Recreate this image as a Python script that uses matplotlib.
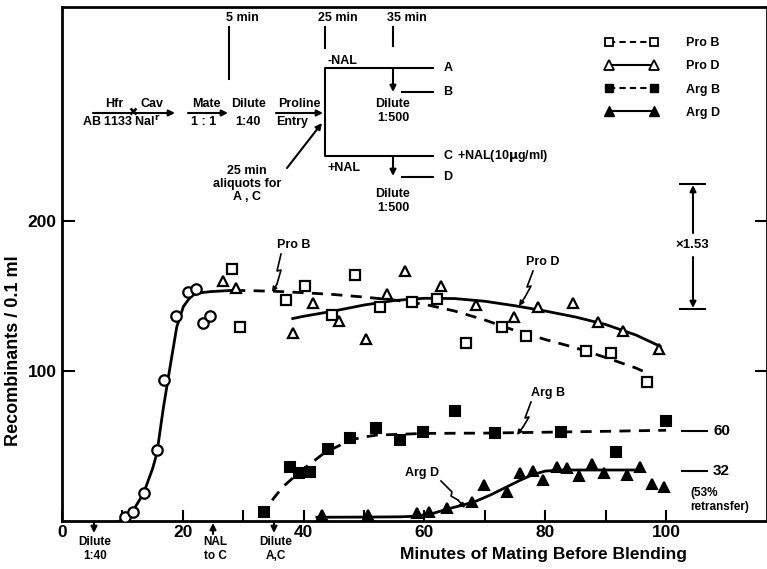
import numpy as np
import matplotlib.pyplot as plt
from matplotlib.lines import Line2D

plt.rcParams['font.family'] = ['Liberation Sans', 'DejaVu Sans']
plt.rcParams['font.weight'] = 'bold'
plt.rcParams['mathtext.default'] = 'bf'

W, H = 767, 569

# scatter data (minutes, recombinants / 0.1 ml)
circ_x = [10.4, 11.7, 13.5, 15.8, 16.9, 18.8, 20.9, 22.1, 23.3, 24.5]
circ_y = [2.5, 6.2, 18.9, 47.3, 94, 136.7, 152.4, 154.7, 132.2, 136.9]

prob_x = [28.2, 29.5, 37.1, 40.3, 44.7, 48.5, 52.6, 57.9, 62.1, 66.9, 72.9, 76.8, 86.7, 90.9, 96.9]
prob_y = [168, 129.5, 147.3, 156.7, 137.3, 164, 142.7, 146.2, 147.8, 118.9, 129.1, 123.6, 113.6, 111.8, 92.9]

prod_x = [26.7, 28.8, 38.3, 41.6, 45.9, 50.3, 53.8, 56.7, 62.7, 68.5, 74.8, 78.8, 84.6, 88.8, 92.9, 98.9]
prod_y = [160.2, 155.1, 125.1, 145.6, 133.5, 121.1, 151.1, 166.9, 156.9, 144, 135.8, 142.4, 145.1, 132.9, 126.7, 114.4]

argb_x = [33.4, 37.7, 39.2, 41.1, 44.0, 47.7, 51.9, 56.0, 59.8, 65.1, 71.7, 82.6, 91.7, 99.9]
argb_y = [5.8, 35.8, 31.8, 32.9, 47.8, 55.1, 61.8, 54, 59.1, 73.3, 58.4, 59.1, 45.8, 66.9]

argd_x = [43.0, 50.7, 58.7, 60.8, 63.8, 67.9, 69.9, 73.6, 75.8, 77.9, 79.7, 81.9, 83.6, 85.6,
          87.8, 89.8, 93.5, 95.7, 97.6, 99.7]
argd_y = [4, 4, 5.1, 6.2, 8.4, 12.9, 24, 19.6, 31.8, 33.6, 27.3, 36.2, 35.6, 30, 37.8, 31.8,
          30.7, 36.2, 24.7, 22.4]

# hand drawn curves
sig_x = [9.5, 10.2, 12.0, 13.5, 15.0, 15.7, 16.8, 17.9, 19.0, 20.1, 21.0, 21.7, 23.0, 24.5, 27.0, 28.5]
sig_y = [0, 1.1, 8.5, 18.4, 35, 45, 76, 103, 129.5, 143, 148, 150.7, 152.2, 152.9, 153.5, 153.8]

probc_x = [28.5, 35, 40, 45, 50, 55, 60, 65, 70, 75, 80, 85, 90, 95, 97.2]
probc_y = [153.8, 153.2, 152.2, 151, 149.3, 147.3, 144.5, 140, 134, 127, 121, 115.5, 109, 102, 98]

prodc_x = [38.2, 40, 45, 50, 55, 60, 65, 70, 75, 80, 85, 90, 95, 99]
prodc_y = [135, 136.5, 140, 144, 147, 148.5, 148.3, 146.5, 143.5, 140, 136, 131, 124, 116.5]

argbc_x = [33.0, 35.0, 36.6, 39.4, 43.3, 47.7, 50.0, 52.1, 56.0, 59.8, 70, 80, 90, 100]
argbc_y = [3, 15, 22.9, 32.9, 45, 54, 56, 57.3, 57.8, 58.4, 58.6, 59.2, 59.8, 60.5]

argdc_x = [42.2, 50, 56, 58.7, 61.5, 64.2, 66.5, 68.7, 71, 73.5, 76, 78, 80, 83, 96]
argdc_y = [2.5, 2.6, 2.8, 3.2, 5.2, 8.4, 10.8, 13.5, 17.5, 22.5, 27.5, 31, 33.3, 34, 34]

legend_labels = ['Pro B', 'Pro D', 'Arg B', 'Arg D']


def P(x, y):
    # pixel position of the reference -> figure fraction
    return (x / W, 1 - y / H)


fig = plt.figure(figsize=(W / 100, H / 100), dpi=100)
ax = fig.add_axes([62 / W, (H - 521) / H, (W - 62) / W, (521 - 7) / H])
ax.set_xlim(0, 116.7)
ax.set_ylim(0, 342.7)

for s in ax.spines.values():
    s.set_linewidth(2)

ms = 7.5
ax.plot(circ_x, circ_y, 'o', mfc='white', mec='k', mew=1.6, ms=ms, zorder=3)
ax.plot(sig_x, sig_y, '-', color='k', lw=2)
ax.plot(probc_x, probc_y, '--', color='k', lw=2, dashes=(4, 3))
ax.plot(prodc_x, prodc_y, '-', color='k', lw=2)
ax.plot(argbc_x, argbc_y, '--', color='k', lw=2, dashes=(4, 3))
ax.plot(argdc_x, argdc_y, '-', color='k', lw=2)
ax.plot(prob_x, prob_y, 's', mfc='white', mec='k', mew=1.6, ms=ms - 0.5, zorder=3)
ax.plot(prod_x, prod_y, '^', mfc='white', mec='k', mew=1.6, ms=ms, zorder=3)
ax.plot(argb_x, argb_y, 's', mfc='k', mec='k', mew=1.5, ms=ms - 0.5, zorder=3)
ax.plot(argd_x, argd_y, '^', mfc='k', mec='k', mew=1.5, ms=ms, zorder=3)

# legend handles: marker at both ends of the line
lh = [Line2D([], [], color='k', ls='--', dashes=(3, 2), lw=1.5, marker='s', mfc='white', mec='k', mew=1.3, ms=6),
      Line2D([], [], color='k', ls='-', lw=1.5, marker='^', mfc='white', mec='k', mew=1.3, ms=6.5),
      Line2D([], [], color='k', ls='--', dashes=(3, 2), lw=1.5, marker='s', mfc='k', mec='k', ms=6),
      Line2D([], [], color='k', ls='-', lw=1.5, marker='^', mfc='k', mec='k', ms=6.5)]
fig.legend(lh, legend_labels, loc='upper left', bbox_to_anchor=P(605, 37), numpoints=2,
           frameon=False, fontsize=9, handlelength=4.2, handletextpad=2.3,
           labelspacing=0.9, borderpad=0, borderaxespad=0)

ax.set_xticks([0, 20, 40, 60, 80, 100])
ax.set_xticks([10, 30, 50, 70, 90], minor=True)
ax.set_yticks([100, 200])
ax.tick_params(axis='x', which='both', direction='in', length=8, width=1.5, labelsize=12.5, pad=3)
ax.tick_params(axis='y', direction='in', length=9, width=1.5, labelsize=12.5, pad=4, right=True)
ax.set_xticklabels(['0', '20', '40', '60', '80', '100'])

fig.text(*P(14, 351), 'Recombinants / 0.1 ml', rotation=90, ha='center', va='center', fontsize=13)
fig.text(*P(543, 555), 'Minutes of Mating Before Blending', ha='center', va='center', fontsize=12.5)

fs = 9


def txt(x, y, s, ha='center', size=fs, **kw):
    fig.text(*P(x, y), s, ha=ha, va='center', fontsize=size, linespacing=1.15, **kw)


def seg(pts, lw=1.5):
    xs = [P(x, y)[0] for x, y in pts]
    ys = [P(x, y)[1] for x, y in pts]
    fig.add_artist(Line2D(xs, ys, color='k', lw=lw, transform=fig.transFigure))


def arrow(x0, y0, x1, y1, lw=1.5, ms=9):
    ax.annotate('', xy=P(x1, y1), xytext=P(x0, y0), xycoords='figure fraction',
                textcoords='figure fraction',
                arrowprops=dict(arrowstyle='-|>', color='k', lw=lw, mutation_scale=ms,
                                shrinkA=0, shrinkB=0))


# arrows under the x axis
arrow(94, 522, 94, 533)
txt(95, 549, 'Dilute\n1:40', size=8.5)
arrow(213, 534, 213, 523)
txt(215, 549, 'NAL\nto C', size=8.5)
arrow(274, 522, 274, 533)
txt(276, 549, 'Dilute\nA,C', size=8.5)

# scheme at the top
txt(242, 18, '5 min')
seg([(229, 27), (229, 79)])
txt(338, 18, '25 min')
seg([(325, 27), (325, 48)])
txt(407, 18, '35 min')
seg([(393, 27), (393, 46)])

txt(114, 104, 'Hfr')
txt(152, 104, 'Cav')
arrow(93, 113, 175, 113)
# the cross of the mating, drawn as a marker on the arrow
fig.add_artist(Line2D([P(133, 111)[0]], [P(133, 111)[1]], marker='x', color='k', ms=5, mew=1.8,
                      transform=fig.transFigure))
txt(121, 122, 'AB 1133 Nal$^r$')
txt(206, 104, 'Mate')
arrow(188, 113, 228, 113)
txt(204, 122, '1 : 1')
txt(248, 104, 'Dilute')
txt(248, 122, '1:40')
txt(299, 104, 'Proline')
arrow(276, 113, 323, 113)
txt(292, 122, 'Entry')
arrow(287, 168, 322, 123)
txt(247, 184, '25 min\naliquots for\nA , C')

seg([(433, 68), (325, 68), (325, 156), (433, 156)])
txt(328, 61, '-NAL', ha='left')
txt(328, 168, '+NAL', ha='left')
txt(448, 68, 'A')
txt(448, 92, 'B')
txt(448, 156, 'C')
txt(448, 177, 'D')
txt(457, 156, '+NAL(10$\\mu$g/ml)', ha='left')
seg([(402, 92), (433, 92)])
seg([(402, 177), (433, 177)])
arrow(393, 68, 393, 92)
arrow(393, 156, 393, 176)
txt(393, 111, 'Dilute\n1:500')
txt(393, 201, 'Dilute\n1:500')

# curve labels with squiggly pointers
txt(294, 245, 'Pro B')
seg([(281, 254), (277, 271), (281, 270), (277, 284)], lw=1.2)
arrow(277, 284, 272, 292, lw=1.2, ms=7)
txt(543, 262, 'Pro D')
seg([(533, 271), (527, 287), (531, 286), (525, 297)], lw=1.2)
arrow(525, 297, 519, 306, lw=1.2, ms=7)
txt(548, 393, 'Arg B')
seg([(531, 402), (525, 418), (529, 417), (523, 427)], lw=1.2)
arrow(523, 427, 517, 435, lw=1.2, ms=7)
txt(422, 473, 'Arg D')
seg([(441, 481), (452, 492), (451, 496), (458, 500)], lw=1.2)
arrow(458, 500, 465, 508, lw=1.2, ms=7)

# right side notes
seg([(682, 431), (707, 431)])
txt(713, 431, '60', ha='left', size=11)
seg([(682, 471), (707, 471)])
txt(713, 471, '32', ha='left', size=11)
txt(690, 500, '(53%\nretransfer)', ha='left', size=8.5)

seg([(680, 184), (705, 184)])
seg([(680, 309), (705, 309)])
arrow(693, 233, 693, 185)
arrow(693, 257, 693, 308)
txt(692, 245, '×1.53', size=9.5)

fig.savefig('out.png', dpi=100)
